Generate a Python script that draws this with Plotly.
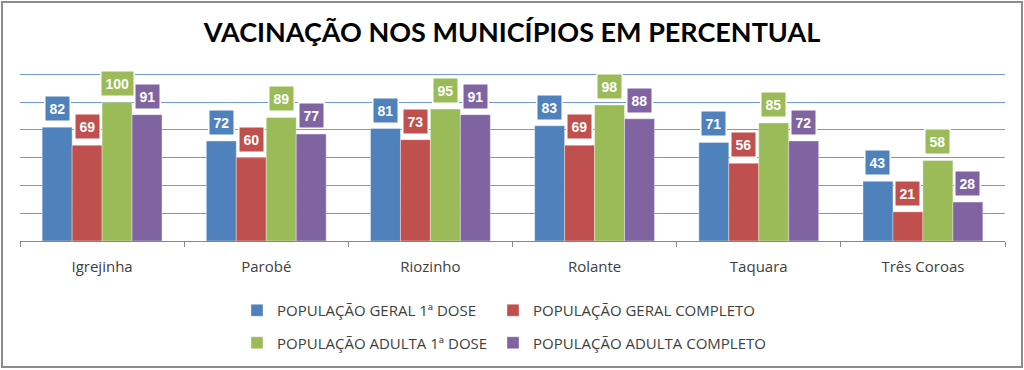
import plotly.graph_objects as go

categories = ["Igrejinha", "Parobé", "Riozinho", "Rolante", "Taquara", "Três Coroas"]
series_names = ["POPULAÇÃO GERAL 1ª DOSE", "POPULAÇÃO GERAL COMPLETO",
                "POPULAÇÃO ADULTA 1ª DOSE", "POPULAÇÃO ADULTA COMPLETO"]
geral_1dose = [82, 72, 81, 83, 71, 43]
geral_completo = [69, 60, 73, 69, 56, 21]
adulta_1dose = [100, 89, 95, 98, 85, 58]
adulta_completo = [91, 77, 91, 88, 72, 28]
series_values = [geral_1dose, geral_completo, adulta_1dose, adulta_completo]
colors = ["#4F81BD", "#C0504D", "#9BBB59", "#8064A2"]
legend_of = ["legend", "legend2", "legend", "legend2"]

W, H = 1024, 370
ML, MR, MT, MB = 20, 19, 73, 129
BARGAP = 0.27

fig = go.Figure()
for name, vals, col, lg in zip(series_names, series_values, colors, legend_of):
    fig.add_trace(go.Bar(
        x=categories, y=vals, name=name, marker_color=col,
        marker_line=dict(width=0.8, color="rgba(255,255,255,0.45)"),
        legend=lg, legendgroup=name,
    ))

n = len(series_values)
bw = (1 - BARGAP) / n
anns = []
for j, (vals, col) in enumerate(zip(series_values, colors)):
    for i, v in enumerate(vals):
        anns.append(dict(
            x=i + (j - (n - 1) / 2) * bw, y=v, xref="x", yref="y",
            text=f"<b>{v}</b>", showarrow=False, yanchor="bottom", yshift=5,
            font=dict(family="Liberation Sans", size=14, color="white"),
            bgcolor=col, bordercolor="white", borderwidth=1.5, borderpad=4,
        ))

pw = W - ML - MR
ph = H - MT - MB
fig.add_shape(type="rect", xref="paper", yref="paper",
              x0=(2 - ML) / pw, x1=(W - 2 - ML) / pw,
              y0=-(H - 3 - (H - MB)) / ph,
              y1=1 + (MT - 2) / ph,
              line=dict(color="#8C8C8C", width=2), layer="above")

legend_font = dict(family="Open Sans", size=15, color="#404040")
legend_y = -(294 - (H - MB)) / ph

fig.update_layout(
    width=W, height=H,
    margin=dict(l=ML, r=MR, t=MT, b=MB, autoexpand=False),
    paper_bgcolor="white", plot_bgcolor="white",
    barmode="group", bargap=BARGAP, bargroupgap=0,
    title=dict(text="<b>VACINAÇÃO NOS MUNICÍPIOS EM PERCENTUAL</b>",
               x=0.5, xanchor="center", y=1 - 33 / H, yanchor="middle",
               font=dict(family="Lato", size=27, color="black")),
    xaxis=dict(type="category", tickson="boundaries", ticks="outside", ticklen=5,
               tickcolor="#868686", showline=True, linecolor="#868686", linewidth=1,
               showgrid=False, ticklabelstandoff=12,
               tickfont=dict(family="Open Sans", size=15, color="#404040")),
    yaxis=dict(range=[0, 121], tick0=0, dtick=20,
               showticklabels=False, showgrid=True,
               gridcolor="#6F9AD3", gridwidth=1, zeroline=False, showline=False),
    legend=dict(orientation="v", x=(237 - ML) / pw, xanchor="left",
                y=legend_y, yanchor="top", tracegroupgap=10, font=legend_font,
                bgcolor="rgba(0,0,0,0)"),
    legend2=dict(orientation="v", x=(493 - ML) / pw, xanchor="left",
                 y=legend_y, yanchor="top", tracegroupgap=10, font=legend_font,
                 bgcolor="rgba(0,0,0,0)"),
    annotations=anns,
    showlegend=True,
)
fig.write_html("out.html", config={"displayModeBar": False},
               post_script="document.body.style.margin='0';")
